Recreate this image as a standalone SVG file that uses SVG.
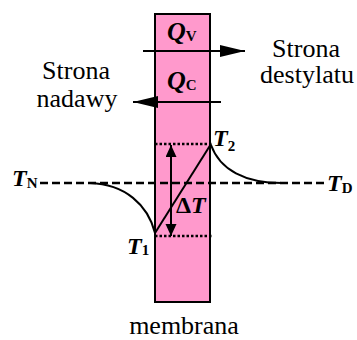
<svg xmlns="http://www.w3.org/2000/svg" width="357" height="340" viewBox="0 0 357 340">
<style>
text{font-family:"Liberation Serif","Times New Roman",serif;fill:#000}
.lbl{font-size:26px}
.sym{font-weight:bold;font-style:italic}
.sub{font-style:normal;font-weight:bold;font-size:15px}
.ln{stroke:#000;fill:none}
</style>
<defs>
<marker id="bigArrow" markerUnits="userSpaceOnUse" markerWidth="26" markerHeight="14" refX="25" refY="6" orient="auto">
<path d="M0,0 L25,6 L0,12 Z" fill="#000"/>
</marker>
<marker id="smallArrow" markerUnits="userSpaceOnUse" markerWidth="14" markerHeight="12" refX="12" refY="5.5" orient="auto-start-reverse">
<path d="M0,0 L12,5.5 L0,11 Z" fill="#000"/>
</marker>
</defs>
<g id="membrane">
<rect x="155" y="14" width="55" height="288" fill="#FF99CC" stroke="#000" stroke-width="2"/>
</g>
<g id="connectors">
<line class="ln" x1="40" y1="183" x2="325" y2="183" stroke-width="2.5" stroke-dasharray="8,4"/>
<line class="ln" x1="155" y1="144" x2="212" y2="144" stroke-width="2.5" stroke-dasharray="2.5,2"/>
<line class="ln" x1="155" y1="236" x2="212" y2="236" stroke-width="2.5" stroke-dasharray="2.5,2"/>
<path class="ln" d="M90,183 C125,184 148,205 155,233" stroke-width="2"/>
<path class="ln" d="M211,145 C220,170 245,183 282,183" stroke-width="2"/>
<line class="ln" x1="155" y1="233" x2="211" y2="144" stroke-width="2"/>
<line class="ln" x1="171" y1="145" x2="171" y2="236" stroke-width="2" marker-start="url(#smallArrow)" marker-end="url(#smallArrow)"/>
<line class="ln" x1="143" y1="51" x2="245" y2="51" stroke-width="2" marker-end="url(#bigArrow)"/>
<line class="ln" x1="221" y1="102" x2="133" y2="102" stroke-width="2" marker-end="url(#bigArrow)"/>
</g>
<g id="label-qv"><text class="sym" x="167" y="40" font-size="26">Q<tspan class="sub" dy="1">V</tspan></text></g>
<g id="label-qc"><text class="sym" x="167" y="89" font-size="26">Q<tspan class="sub" dy="1">C</tspan></text></g>
<g id="label-strona-destylatu"><text class="lbl" x="306" y="57" text-anchor="middle">Strona</text><text class="lbl" x="307" y="83" text-anchor="middle">destylatu</text></g>
<g id="label-strona-nadawy"><text class="lbl" x="76" y="79" text-anchor="middle">Strona</text><text class="lbl" x="77" y="107" text-anchor="middle">nadawy</text></g>
<g id="label-tn"><text class="sym" x="12" y="186" font-size="24">T<tspan class="sub" dy="2">N</tspan></text></g>
<g id="label-td"><text class="sym" x="327" y="191" font-size="24">T<tspan class="sub" dy="2">D</tspan></text></g>
<g id="label-t2"><text class="sym" x="213" y="146" font-size="24">T<tspan class="sub" dy="5">2</tspan></text></g>
<g id="label-t1"><text class="sym" x="127" y="254" font-size="24">T<tspan class="sub" dy="1">1</tspan></text></g>
<g id="label-dt"><text class="sym" x="176" y="213" font-size="24"><tspan font-style="normal">Δ</tspan>T</text></g>
<g id="label-membrana"><text class="lbl" x="184" y="334" text-anchor="middle">membrana</text></g>
</svg>
